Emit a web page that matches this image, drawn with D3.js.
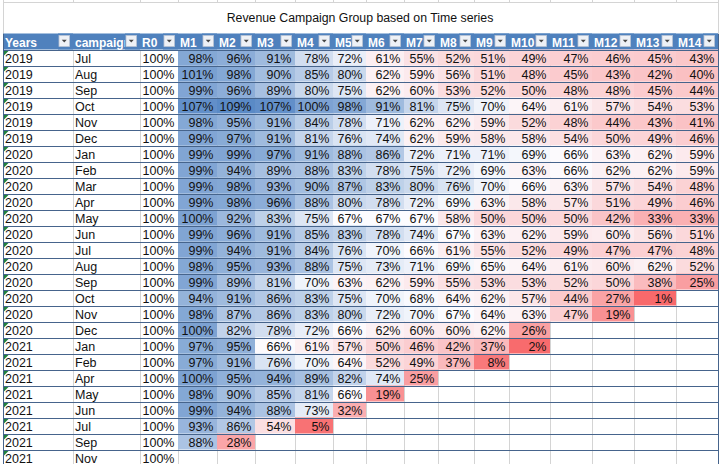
<!DOCTYPE html>
<html>
<head>
<meta charset="utf-8">
<script src="https://cdn.jsdelivr.net/npm/d3@7"></script>
<style>
  body { margin: 0; background: #fff; }
  svg { display: block; font-family: "Liberation Sans", Arial, sans-serif; }
</style>
</head>
<body>
<div id="chart"></div>
<script>
const title = "Revenue Campaign Group based on Time series";

const headers = ["Years", "campaign", "R0", "M1", "M2", "M3", "M4", "M5", "M6", "M7",
  "M8", "M9", "M10", "M11", "M12", "M13", "M14"];

const years = ["2019", "2019", "2019", "2019", "2019", "2019",
  "2020", "2020", "2020", "2020", "2020", "2020", "2020", "2020", "2020", "2020", "2020", "2020",
  "2021", "2021", "2021", "2021", "2021", "2021", "2021", "2021"];

const campaigns = ["Jul", "Aug", "Sep", "Oct", "Nov", "Dec",
  "Jan", "Feb", "Mar", "Apr", "May", "Jun", "Jul", "Aug", "Sep", "Oct", "Nov", "Dec",
  "Jan", "Feb", "Apr", "May", "Jun", "Jul", "Sep", "Nov"];

const r0 = [100, 100, 100, 100, 100, 100, 100, 100, 100, 100, 100, 100, 100,
  100, 100, 100, 100, 100, 100, 100, 100, 100, 100, 100, 100, 100];

// M1..M14 per campaign row (percent)
const retention = [
  [98, 96, 91, 78, 72, 61, 55, 52, 51, 49, 47, 46, 45, 43],
  [101, 98, 90, 85, 80, 62, 59, 56, 51, 48, 45, 43, 42, 40],
  [99, 96, 89, 80, 75, 62, 60, 53, 52, 50, 48, 48, 45, 44],
  [107, 109, 107, 100, 98, 91, 81, 75, 70, 64, 61, 57, 54, 53],
  [98, 95, 91, 84, 78, 71, 62, 62, 59, 52, 48, 44, 43, 41],
  [99, 97, 91, 81, 76, 74, 62, 59, 58, 58, 54, 50, 49, 46],
  [99, 99, 97, 91, 88, 86, 72, 71, 71, 69, 66, 63, 62, 59],
  [99, 94, 89, 88, 83, 78, 75, 72, 69, 63, 66, 62, 62, 59],
  [99, 98, 93, 90, 87, 83, 80, 76, 70, 66, 63, 57, 54, 48],
  [99, 98, 96, 88, 80, 78, 72, 69, 63, 58, 57, 51, 49, 46],
  [100, 92, 83, 75, 67, 67, 67, 58, 50, 50, 50, 42, 33, 33],
  [99, 96, 91, 85, 83, 78, 74, 67, 63, 62, 59, 60, 56, 51],
  [99, 94, 91, 84, 76, 70, 66, 61, 55, 52, 49, 47, 47, 48],
  [98, 95, 93, 88, 75, 73, 71, 69, 65, 64, 61, 60, 62, 52],
  [99, 89, 81, 70, 63, 62, 59, 55, 53, 53, 52, 50, 38, 25],
  [94, 91, 86, 83, 75, 70, 68, 64, 62, 57, 44, 27, 1],
  [98, 87, 86, 83, 80, 72, 70, 67, 64, 63, 47, 19],
  [100, 82, 78, 72, 66, 62, 60, 60, 62, 26],
  [97, 95, 66, 61, 57, 50, 46, 42, 37, 2],
  [97, 91, 76, 70, 64, 52, 49, 37, 8],
  [100, 95, 94, 89, 82, 74, 25],
  [98, 90, 85, 81, 66, 19],
  [99, 94, 88, 73, 32],
  [93, 86, 54, 5],
  [88, 28],
  []
];

// layout (sheet column edges in px)
const width = 722, height = 464;
const colEdges = [3, 73, 140, 178, 217, 255, 295, 333, 366, 404, 438, 474, 509, 550, 592, 634, 676, 718];
const headTop = 33.5, rowH = 16;
const gridColor = "#d4d4d4", lineColor = "#46648c", headFill = "#4f81bd";

const svg = d3.select("#chart").append("svg")
  .attr("width", width)
  .attr("height", height);

const x = d3.scaleOrdinal().domain(headers).range(colEdges.slice(0, -1));
const w = d3.scaleOrdinal().domain(headers).range(d3.pairs(colEdges).map(p => p[1] - p[0]));
const y = d3.scaleBand().domain(d3.range(campaigns.length))
  .range([headTop + rowH, headTop + rowH * (campaigns.length + 1)]);

const all = retention.flat();
const color = d3.scaleLinear()
  .domain([d3.min(all), d3.quantile(all, 0.5), d3.max(all)])
  .range(["#f8696b", "#fcfcff", "#5a8ac6"]);

// sheet gridlines above the table
const grid = svg.append("g").attr("stroke", gridColor).attr("shape-rendering", "crispEdges");
grid.append("line").attr("x1", 3).attr("x2", 718).attr("y1", 2.5).attr("y2", 2.5);
grid.selectAll(".stub").data(colEdges).join("line")
  .attr("x1", d => d + 0.5).attr("x2", d => d + 0.5).attr("y1", 0).attr("y2", 2.5);
grid.selectAll(".side").data([3, 718]).join("line")
  .attr("x1", d => d + 0.5).attr("x2", d => d + 0.5).attr("y1", 0).attr("y2", headTop);
// vertical gridlines through table body
grid.selectAll(".vg").data(colEdges.slice(1, -1)).join("line")
  .attr("x1", d => d + 0.5).attr("x2", d => d + 0.5)
  .attr("y1", headTop + rowH).attr("y2", height);

// title
svg.append("text")
  .attr("x", 360).attr("y", 21.5)
  .attr("text-anchor", "middle")
  .attr("font-size", "12.3px")
  .attr("fill", "#111")
  .text(title);

// header
const head = svg.append("g");
head.append("rect")
  .attr("x", colEdges[0]).attr("y", headTop)
  .attr("width", colEdges[colEdges.length - 1] - colEdges[0]).attr("height", rowH)
  .attr("fill", headFill);

const hcell = head.selectAll(".hc").data(headers).join("g");
hcell.append("text")
  .attr("x", d => x(d) + 2)
  .attr("y", headTop + 13.3)
  .attr("font-size", "12px")
  .attr("font-weight", "bold")
  .attr("fill", "#fff")
  .text(d => d);
// cover text under filter button, then draw button
hcell.append("rect")
  .attr("x", d => x(d) + w(d) - 15).attr("y", headTop)
  .attr("width", 15).attr("height", rowH)
  .attr("fill", headFill);
hcell.append("rect")
  .attr("x", d => x(d) + w(d) - 14).attr("y", headTop + 2)
  .attr("width", 10.5).attr("height", 11)
  .attr("fill", "#eef1f6")
  .attr("stroke", "#b9c4d4")
  .attr("stroke-width", 0.8);
hcell.append("path")
  .attr("d", d => {
    const cx = x(d) + w(d) - 8.75, cy = headTop + 7.3;
    return `M${cx - 2.5},${cy - 1}L${cx + 2.5},${cy - 1}L${cx},${cy + 1.6}Z`;
  })
  .attr("fill", "#444");

// body rows
const rows = svg.append("g").selectAll(".row").data(campaigns).join("g")
  .attr("transform", (d, i) => `translate(0,${y(i)})`);

// colored M cells
rows.selectAll(".cell")
  .data((d, i) => retention[i].map((v, j) => ({ v, col: headers[j + 3] })))
  .join("rect")
  .attr("x", d => x(d.col))
  .attr("width", d => w(d.col))
  .attr("height", y.bandwidth())
  .attr("fill", d => color(d.v));

const txt = (sel) => sel.attr("font-size", "12.5px").attr("fill", "#111").attr("y", 13.8);

rows.append("text").call(txt)
  .attr("x", x("Years") + 2)
  .text((d, i) => years[i]);

rows.append("text").call(txt)
  .attr("x", x("campaign") + 2)
  .text(d => d);

rows.append("text").call(txt)
  .attr("x", x("R0") + w("R0") - 3.5)
  .attr("text-anchor", "end")
  .text((d, i) => r0[i] + "%");

rows.selectAll(".val")
  .data((d, i) => retention[i].map((v, j) => ({ v, col: headers[j + 3] })))
  .join("text").call(txt)
  .attr("x", d => x(d.col) + w(d.col) - 3.5)
  .attr("text-anchor", "end")
  .text(d => d.v + "%");

// green "number stored as text" markers
rows.append("path")
  .attr("d", `M${colEdges[0] + 0.5},0.5L${colEdges[0] + 6.5},0.5L${colEdges[0] + 0.5},6.5Z`)
  .attr("fill", "#21813d");

// table row borders
const borders = svg.append("g").attr("stroke", lineColor).attr("shape-rendering", "crispEdges");
borders.selectAll(".hl").data(d3.range(campaigns.length + 1)).join("line")
  .attr("x1", colEdges[0]).attr("x2", colEdges[colEdges.length - 1] + 1)
  .attr("y1", i => headTop + rowH * (i + 1) + 0.5)
  .attr("y2", i => headTop + rowH * (i + 1) + 0.5);
borders.selectAll(".vl").data([colEdges[0], colEdges[colEdges.length - 1]]).join("line")
  .attr("x1", d => d + 0.5).attr("x2", d => d + 0.5)
  .attr("y1", headTop).attr("y2", height);
</script>
</body>
</html>
